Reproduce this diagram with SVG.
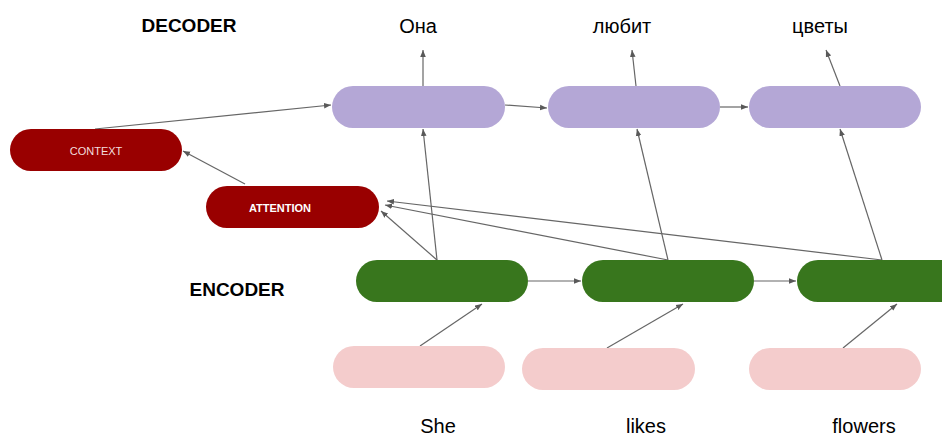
<svg xmlns="http://www.w3.org/2000/svg" width="942" height="439" viewBox="0 0 942 439">
<defs>
<marker id="ah" viewBox="0 0 10 10" refX="10" refY="5" markerWidth="7" markerHeight="7" orient="auto" markerUnits="userSpaceOnUse">
<path d="M0,1 L10,5 L0,9 z" fill="#595959"/>
</marker>
<style>
.dec{fill:#b4a7d6}
.enc{fill:#38761d}
.inp{fill:#f4cccc}
.red{fill:#990000}
.c{stroke:#666;stroke-width:1.2;fill:none;marker-end:url(#ah)}
.lbl{font-family:"Liberation Sans",Arial,sans-serif;font-size:20px;fill:#000;text-anchor:middle}
.hdr{font-family:"Liberation Sans",Arial,sans-serif;font-size:19px;font-weight:bold;fill:#000;text-anchor:middle}
.w{font-family:"Liberation Sans",Arial,sans-serif;font-size:11px;fill:#f3dede;text-anchor:middle}
</style>
</defs>
<rect width="942" height="439" fill="#fff"/>
<text class="hdr" x="189" y="32">DECODER</text>
<text class="hdr" x="237" y="296">ENCODER</text>
<g id="connectors">
<line class="c" x1="423" y1="95" x2="423" y2="50"/>
<line class="c" x1="636" y1="86" x2="632" y2="50"/>
<line class="c" x1="840" y1="86" x2="826" y2="50"/>
<line class="c" x1="505" y1="105" x2="547" y2="108"/>
<line class="c" x1="720" y1="107" x2="748" y2="107"/>
<line class="c" x1="95" y1="129" x2="331" y2="105"/>
<line class="c" x1="245" y1="184" x2="183" y2="151"/>
<line class="c" x1="437" y1="260" x2="423" y2="129"/>
<line class="c" x1="668" y1="260" x2="637" y2="129"/>
<line class="c" x1="882" y1="260" x2="840" y2="129"/>
<line class="c" x1="437" y1="260" x2="381" y2="211"/>
<line class="c" x1="668" y1="260" x2="385" y2="205"/>
<line class="c" x1="882" y1="260" x2="387" y2="201"/>
<line class="c" x1="528" y1="281" x2="581" y2="281"/>
<line class="c" x1="754" y1="281" x2="796" y2="281"/>
<line class="c" x1="420" y1="346" x2="482" y2="304"/>
<line class="c" x1="607" y1="348" x2="683" y2="304"/>
<line class="c" x1="843" y1="348" x2="897" y2="304"/>
</g>
<g id="dec1"><rect class="dec" x="332" y="86" width="173" height="42" rx="21"/></g>
<g id="dec2"><rect class="dec" x="548" y="86" width="172" height="42" rx="21"/></g>
<g id="dec3"><rect class="dec" x="749" y="86" width="172" height="42" rx="21"/></g>
<g id="context"><rect class="red" x="10" y="129" width="172" height="42" rx="21"/><text class="w" x="96" y="155">CONTEXT</text></g>
<g id="attention"><rect class="red" x="206" y="186" width="173" height="42" rx="21"/><text class="w" x="280" y="212" style="font-weight:bold;fill:#fff">ATTENTION</text></g>
<g id="enc1"><rect class="enc" x="356" y="260" width="172" height="42" rx="21"/></g>
<g id="enc2"><rect class="enc" x="582" y="260" width="172" height="42" rx="21"/></g>
<g id="enc3"><rect class="enc" x="797" y="260" width="172" height="42" rx="21"/></g>
<g id="in1"><rect class="inp" x="333" y="346" width="172" height="42" rx="21"/></g>
<g id="in2"><rect class="inp" x="522" y="348" width="173" height="42" rx="21"/></g>
<g id="in3"><rect class="inp" x="749" y="348" width="172" height="42" rx="21"/></g>
<g id="words">
<text class="lbl" x="418" y="33">Она</text>
<text class="lbl" x="622" y="33">любит</text>
<text class="lbl" x="820" y="33">цветы</text>
<text class="lbl" x="438" y="433">She</text>
<text class="lbl" x="646" y="433">likes</text>
<text class="lbl" x="864" y="433">flowers</text>
</g>
</svg>
